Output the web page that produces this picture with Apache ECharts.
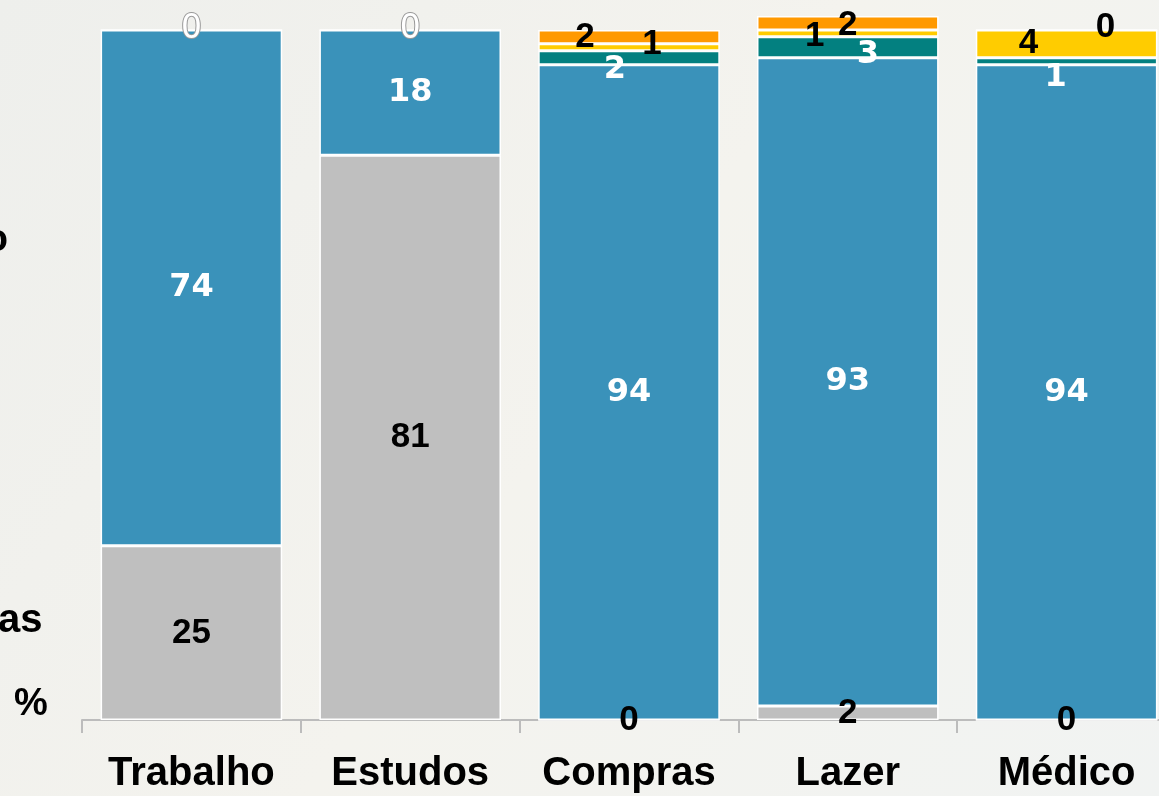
<!DOCTYPE html>
<html>
<head>
<meta charset="utf-8">
<script src="https://cdn.jsdelivr.net/npm/echarts@6/dist/echarts.min.js"></script>
<style>
  html, body { margin: 0; padding: 0; }
  #chart { width: 1159px; height: 796px; }
</style>
</head>
<body>
<div id="chart"></div>
<script>
// categorias e percentuais
const categories = ['Trabalho', 'Estudos', 'Compras', 'Lazer', 'Médico']
const cinza   = [25, 81, 0, 2, 0]
const azul    = [74, 18, 94, 93, 94]
const verde   = [0, 0, 2, 3, 1]
const amarelo = [null, null, 1, 1, 4]
const laranja = [null, null, 2, 2, 0]

// deslocamento dos rotulos (igual ao original, meio espalhados)
const offVerde   = [[0, 0], [0, 0], [-14, 12], [20, 7], [-11, 16]]
const offAmarelo = [[0, 0], [0, 0], [23, -3], [-33, 3], [-38, 0]]
const offLaranja = [[0, 0], [0, 0], [-44, 0], [0, 2], [39, -3]]

const blackLabel = {
  show: true,
  position: 'inside',
  color: '#000',
  fontFamily: 'Liberation Sans',
  fontWeight: 'bold',
  fontSize: 35
}
const whiteLabel = {
  show: true,
  position: 'inside',
  color: '#fff',
  fontFamily: 'DejaVu Sans',
  fontWeight: 'bold',
  fontSize: 32
}

function withOffsets(values, offsets) {
  return values.map((v, i) => (v === null ? '-' : { value: v, label: { offset: offsets[i] } }))
}

function mkSeries(name, color, data, label) {
  return {
    name: name,
    type: 'bar',
    stack: 'total',
    barWidth: '83%',
    itemStyle: { color: color, borderColor: '#fff', borderWidth: 1.5 },
    label: label,
    data: data
  }
}

// os zeros do verde no topo de Trabalho/Estudos ficam com contorno cinza
const verdeData = verde.map((v, i) => {
  if (v === 0 && i < 2) {
    return {
      value: v,
      label: { fontWeight: 'normal', fontSize: 33, textBorderColor: '#999', textBorderWidth: 2 }
    }
  }
  return { value: v, label: { offset: offVerde[i] } }
})

let myChart = echarts.init(document.getElementById('chart'))
myChart.setOption({
  backgroundColor: {
    type: 'linear', x: 0, y: 0, x2: 1, y2: 1,
    colorStops: [
      { offset: 0, color: '#eeefec' },
      { offset: 0.5, color: '#f4f3ee' },
      { offset: 1, color: '#f1f3f2' }
    ]
  },
  animation: false,
  // o eixo continua alem da borda direita, como no original
  grid: { left: 82, width: 1094, top: 2, bottom: 76, containLabel: false, outerBoundsMode: 'none' },
  xAxis: {
    type: 'category',
    data: categories,
    axisLine: { lineStyle: { color: '#bcbcbc', width: 2 } },
    axisTick: { show: true, length: 13, lineStyle: { color: '#bcbcbc', width: 2 } },
    axisLabel: {
      interval: 0,
      hideOverlap: false,
      margin: 34,
      color: '#000',
      fontFamily: 'Liberation Sans',
      fontWeight: 'bold',
      fontSize: 40
    }
  },
  yAxis: {
    type: 'value',
    min: 0,
    max: 103,
    show: false,
    splitLine: { show: false }
  },
  series: [
    mkSeries('cinza', '#bfbfbf', cinza, blackLabel),
    mkSeries('azul', '#3a92ba', azul, whiteLabel),
    mkSeries('verde', '#038080', verdeData, whiteLabel),
    mkSeries('amarelo', '#ffcc00', withOffsets(amarelo, offAmarelo), blackLabel),
    mkSeries('laranja', '#ff9900', withOffsets(laranja, offLaranja), blackLabel)
  ],
  graphic: [
    { type: 'text', right: 1151, top: 222, style: { text: 'o', font: 'bold 38px "Liberation Sans"', fill: '#000' } },
    { type: 'text', left: -2, top: 601, style: { text: 'as', font: 'bold 40px "Liberation Sans"', fill: '#000' } },
    { type: 'text', left: 14, top: 686, style: { text: '%', font: 'bold 38px "Liberation Sans"', fill: '#000' } }
  ]
})
</script>
</body>
</html>
